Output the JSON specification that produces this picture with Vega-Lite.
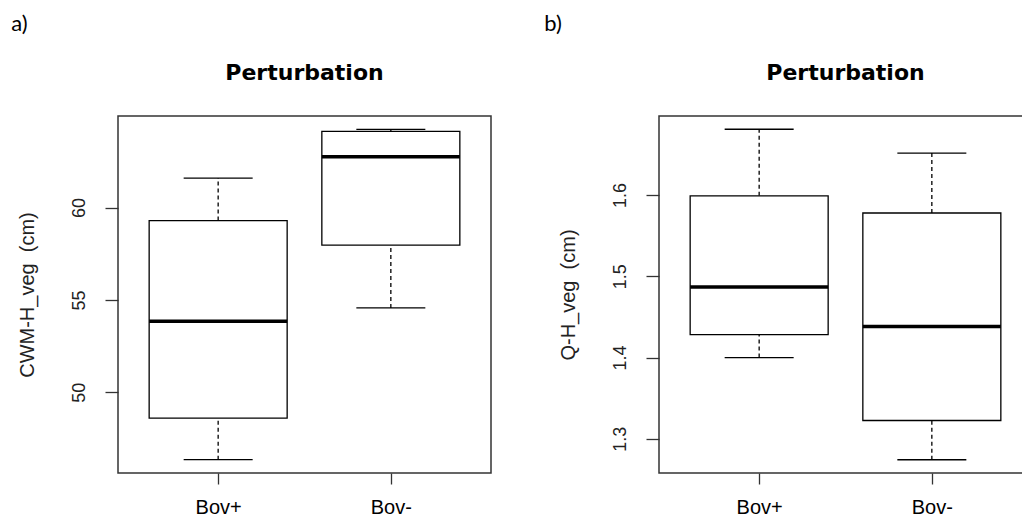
{
  "$schema": "https://vega.github.io/schema/vega-lite/v6.json",
  "background": "white",
  "padding": {"left": 11, "top": 13, "right": 0, "bottom": 0},
  "spacing": 52,
  "config": {
    "view": {"stroke": "#333", "strokeWidth": 1.5},
    "font": "Liberation Sans",
    "axisX": {"domain": false, "grid": false, "ticks": true, "tickSize": 11, "tickColor": "#333", "tickWidth": 1.3, "labelFontSize": 20, "labelColor": "black", "labelPadding": 13, "labelAngle": 0, "labelFont": "Liberation Sans"},
    "axisY": {"domain": false, "grid": false, "tickSize": 13, "tickColor": "#333", "tickWidth": 1.3, "labelFontSize": 18, "labelAngle": -90, "labelAlign": "center", "labelBaseline": "alphabetic", "labelPadding": 21, "labelColor": "#222", "labelFont": "Liberation Sans", "titleFont": "Liberation Sans", "titleFontSize": 20, "titleFontWeight": "normal", "titleColor": "#222", "titleBaseline": "alphabetic", "titlePadding": 37, "minExtent": 48, "maxExtent": 48}
  },
  "datasets": {
    "a": [
      {"group": "Bov+", "lower": 46.35, "q1": 48.6, "median": 53.85, "q3": 59.3, "upper": 61.6},
      {"group": "Bov-", "lower": 54.57, "q1": 57.97, "median": 62.76, "q3": 64.13, "upper": 64.24}
    ],
    "b": [
      {"group": "Bov+", "lower": 1.4, "q1": 1.4283, "median": 1.4868, "q3": 1.599, "upper": 1.681},
      {"group": "Bov-", "lower": 1.2742, "q1": 1.3225, "median": 1.4381, "q3": 1.5779, "upper": 1.6517}
    ]
  },
  "hconcat": [
    {
      "title": {"text": "a)", "anchor": "start", "frame": "bounds", "font": "Lato", "fontSize": 22, "fontWeight": "normal", "color": "black", "offset": 8, "dx": -5, "baseline": "alphabetic"},
      "hconcat": [
        {
          "width": 373,
          "height": 357,
          "title": {"text": "Perturbation", "anchor": "middle", "frame": "group", "font": "DejaVu Sans", "fontSize": 22, "fontWeight": "bold", "color": "black", "baseline": "alphabetic", "offset": 14},
          "data": {"name": "a"},
          "encoding": {
            "x": {"field": "group", "type": "nominal", "sort": ["Bov+", "Bov-"], "scale": {"type": "point", "padding": 0.58}, "title": null}
          },
          "layer": [
            {
              "mark": {"type": "rule", "strokeDash": [4, 3], "color": "black", "strokeWidth": 1.3},
              "encoding": {
                "y": {"field": "q3", "type": "quantitative", "title": "CWM-H_veg\u00a0\u00a0(cm)", "scale": {"domain": [45.63, 64.96], "nice": false, "zero": false}, "axis": {"values": [50, 55, 60]}},
                "y2": {"field": "upper"}
              }
            },
            {
              "mark": {"type": "rule", "strokeDash": [4, 3], "color": "black", "strokeWidth": 1.3},
              "encoding": {
                "y": {"field": "lower", "type": "quantitative", "title": "CWM-H_veg\u00a0\u00a0(cm)"},
                "y2": {"field": "q1"}
              }
            },
            {
              "mark": {"type": "tick", "size": 69, "thickness": 1.3, "color": "black", "opacity": 1},
              "encoding": {"y": {"field": "upper", "type": "quantitative", "title": "CWM-H_veg\u00a0\u00a0(cm)"}}
            },
            {
              "mark": {"type": "tick", "size": 69, "thickness": 1.3, "color": "black", "opacity": 1},
              "encoding": {"y": {"field": "lower", "type": "quantitative", "title": "CWM-H_veg\u00a0\u00a0(cm)"}}
            },
            {
              "mark": {"type": "bar", "size": 138, "fill": "white", "stroke": "black", "strokeWidth": 1.3, "opacity": 1},
              "encoding": {
                "y": {"field": "q1", "type": "quantitative", "title": "CWM-H_veg\u00a0\u00a0(cm)"},
                "y2": {"field": "q3"}
              }
            },
            {
              "mark": {"type": "tick", "size": 138, "thickness": 3.5, "color": "black", "opacity": 1},
              "encoding": {"y": {"field": "median", "type": "quantitative", "title": "CWM-H_veg\u00a0\u00a0(cm)"}}
            }
          ]
        }
      ]
    },
    {
      "title": {"text": "b)", "anchor": "start", "frame": "bounds", "font": "Lato", "fontSize": 22, "fontWeight": "normal", "color": "black", "offset": 8, "dx": -13, "baseline": "alphabetic"},
      "hconcat": [
        {
          "width": 373,
          "height": 357,
          "title": {"text": "Perturbation", "anchor": "middle", "frame": "group", "font": "DejaVu Sans", "fontSize": 22, "fontWeight": "bold", "color": "black", "baseline": "alphabetic", "offset": 14},
          "data": {"name": "b"},
          "encoding": {
            "x": {"field": "group", "type": "nominal", "sort": ["Bov+", "Bov-"], "scale": {"type": "point", "padding": 0.58}, "title": null}
          },
          "layer": [
            {
              "mark": {"type": "rule", "strokeDash": [4, 3], "color": "black", "strokeWidth": 1.3},
              "encoding": {
                "y": {"field": "q3", "type": "quantitative", "title": "Q-H_veg\u00a0\u00a0(cm)", "scale": {"domain": [1.2579, 1.6973], "nice": false, "zero": false}, "axis": {"values": [1.3, 1.4, 1.5, 1.6], "format": ".1f"}},
                "y2": {"field": "upper"}
              }
            },
            {
              "mark": {"type": "rule", "strokeDash": [4, 3], "color": "black", "strokeWidth": 1.3},
              "encoding": {
                "y": {"field": "lower", "type": "quantitative", "title": "Q-H_veg\u00a0\u00a0(cm)"},
                "y2": {"field": "q1"}
              }
            },
            {
              "mark": {"type": "tick", "size": 69, "thickness": 1.3, "color": "black", "opacity": 1},
              "encoding": {"y": {"field": "upper", "type": "quantitative", "title": "Q-H_veg\u00a0\u00a0(cm)"}}
            },
            {
              "mark": {"type": "tick", "size": 69, "thickness": 1.3, "color": "black", "opacity": 1},
              "encoding": {"y": {"field": "lower", "type": "quantitative", "title": "Q-H_veg\u00a0\u00a0(cm)"}}
            },
            {
              "mark": {"type": "bar", "size": 138, "fill": "white", "stroke": "black", "strokeWidth": 1.3, "opacity": 1},
              "encoding": {
                "y": {"field": "q1", "type": "quantitative", "title": "Q-H_veg\u00a0\u00a0(cm)"},
                "y2": {"field": "q3"}
              }
            },
            {
              "mark": {"type": "tick", "size": 138, "thickness": 3.5, "color": "black", "opacity": 1},
              "encoding": {"y": {"field": "median", "type": "quantitative", "title": "Q-H_veg\u00a0\u00a0(cm)"}}
            }
          ]
        }
      ]
    }
  ]
}
